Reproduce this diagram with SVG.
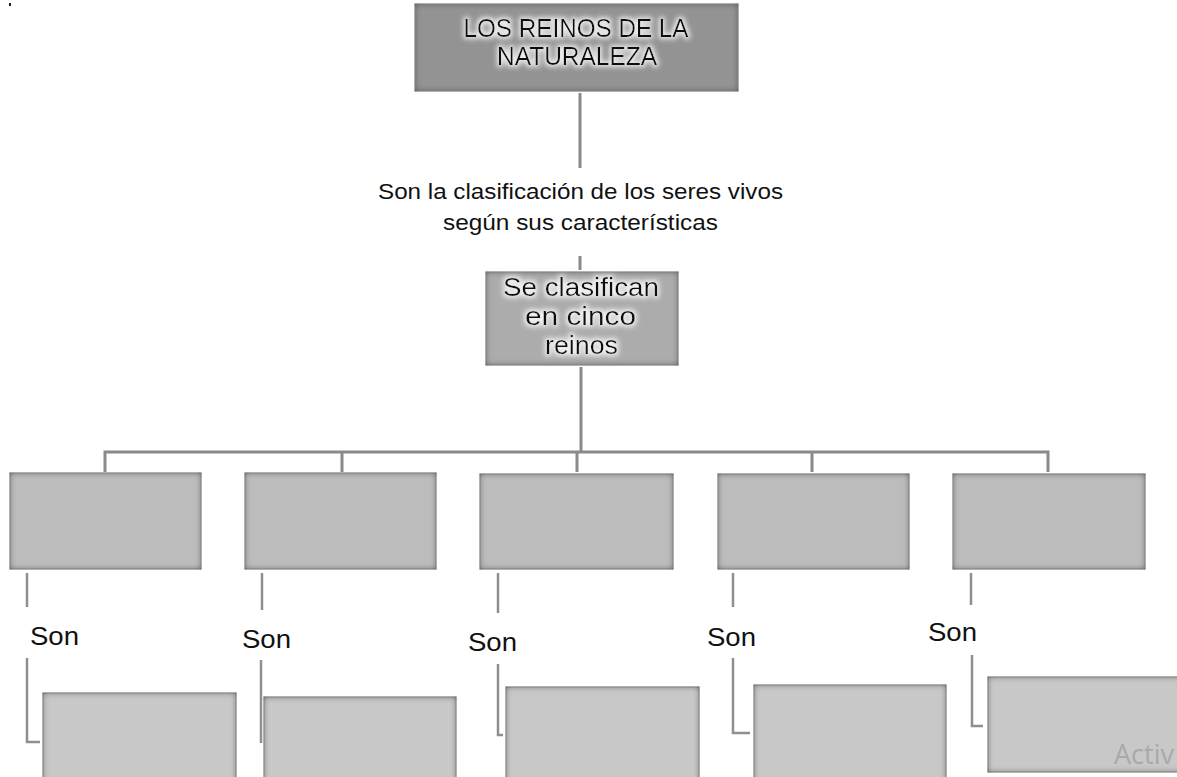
<svg xmlns="http://www.w3.org/2000/svg" width="1177" height="777" viewBox="0 0 1177 777">
<defs>
<filter id="inset" x="-10%" y="-20%" width="120%" height="140%">
<feFlood flood-color="#3c3c3c" result="f"/>
<feComposite in="f" in2="SourceAlpha" operator="out" result="o"/>
<feGaussianBlur in="o" stdDeviation="3" result="b"/>
<feComposite in="b" in2="SourceAlpha" operator="in" result="s"/>
<feComposite in="s" in2="SourceGraphic" operator="over"/>
</filter>
<filter id="glow" x="-10%" y="-30%" width="120%" height="160%">
<feMorphology in="SourceAlpha" operator="dilate" radius="1.5" result="d"/>
<feGaussianBlur in="d" stdDeviation="2.5" result="g"/>
<feFlood flood-color="#ffffff" flood-opacity="0.8"/>
<feComposite in2="g" operator="in" result="w"/>
<feMerge><feMergeNode in="w"/><feMergeNode in="SourceGraphic"/></feMerge>
</filter>
</defs>
<style>
.box{stroke:#a0a0a0;stroke-width:1;filter:url(#inset)}
.top{fill:#939393}
.mid{fill:#acacac}
.r1{fill:#bcbcbc}
.r2{fill:#c8c8c8}
.lbl{font-family:"Liberation Sans",Arial,sans-serif;fill:#111;text-anchor:middle}
.son{font-family:"Liberation Sans",Arial,sans-serif;fill:#111;font-size:25px}
.c{fill:none;stroke:#8a8a8a;stroke-width:3}
.c2{fill:none;stroke:#8f8f8f;stroke-width:2.5}
</style>
<rect x="9" y="3" width="2" height="3" fill="#222"/>
<g id="connectors">
<line class="c" x1="580" y1="93" x2="580" y2="168"/>
<line class="c" x1="580" y1="256" x2="580" y2="270"/>
<line class="c" x1="581" y1="367" x2="581" y2="452"/>
<path class="c" d="M105,472 V452 H1048 V472"/>
<line class="c" x1="342" y1="452" x2="342" y2="472"/>
<line class="c" x1="577" y1="452" x2="577" y2="472"/>
<line class="c" x1="812" y1="452" x2="812" y2="472"/>
<line class="c2" x1="27" y1="573" x2="27" y2="607"/>
<path class="c2" d="M27,658 V742 H40"/>
<line class="c2" x1="262" y1="573" x2="262" y2="610"/>
<line class="c2" x1="261" y1="660" x2="261" y2="743"/>
<line class="c2" x1="498" y1="573" x2="498" y2="613"/>
<path class="c2" d="M498,664 V735 H503"/>
<line class="c2" x1="733" y1="573" x2="733" y2="607"/>
<path class="c2" d="M733,658 V733 H750"/>
<line class="c2" x1="971" y1="573" x2="971" y2="605"/>
<path class="c2" d="M972,655 V726 H983"/>
</g>
<g id="n-top">
<rect class="box top" x="415" y="4" width="323" height="87"/>
<g filter="url(#glow)">
<text class="lbl" x="576" y="37" font-size="25" textLength="225" lengthAdjust="spacingAndGlyphs">LOS REINOS DE LA</text>
<text class="lbl" x="577" y="65" font-size="25" textLength="160" lengthAdjust="spacingAndGlyphs">NATURALEZA</text>
</g>
</g>
<g id="n-desc">
<text class="lbl" x="580.5" y="199" font-size="22" textLength="405" lengthAdjust="spacingAndGlyphs">Son la clasificación de los seres vivos</text>
<text class="lbl" x="580.5" y="230" font-size="22" textLength="275" lengthAdjust="spacingAndGlyphs">según sus características</text>
</g>
<g id="n-mid">
<rect class="box mid" x="486" y="272" width="192" height="93"/>
<g filter="url(#glow)">
<text class="lbl" x="581" y="296" font-size="25" textLength="156" lengthAdjust="spacingAndGlyphs">Se clasifican</text>
<text class="lbl" x="580.5" y="325" font-size="25" textLength="111" lengthAdjust="spacingAndGlyphs">en cinco</text>
<text class="lbl" x="581.5" y="354" font-size="25" textLength="73" lengthAdjust="spacingAndGlyphs">reinos</text>
</g>
</g>
<g id="n-k1"><rect class="box r1" x="10" y="473" width="191" height="96"/></g>
<g id="n-k2"><rect class="box r1" x="245" y="473" width="191" height="96"/></g>
<g id="n-k3"><rect class="box r1" x="480" y="474" width="193" height="95"/></g>
<g id="n-k4"><rect class="box r1" x="718" y="474" width="191" height="95"/></g>
<g id="n-k5"><rect class="box r1" x="953" y="474" width="192" height="95"/></g>
<g id="l1"><text class="son" x="30" y="645" textLength="49" lengthAdjust="spacingAndGlyphs">Son</text></g>
<g id="l2"><text class="son" x="242" y="648" textLength="49" lengthAdjust="spacingAndGlyphs">Son</text></g>
<g id="l3"><text class="son" x="468" y="651" textLength="49" lengthAdjust="spacingAndGlyphs">Son</text></g>
<g id="l4"><text class="son" x="707" y="646" textLength="49" lengthAdjust="spacingAndGlyphs">Son</text></g>
<g id="l5"><text class="son" x="928" y="641" textLength="49" lengthAdjust="spacingAndGlyphs">Son</text></g>
<g id="n-s1"><rect class="box r2" x="43" y="693" width="193" height="110"/></g>
<g id="n-s2"><rect class="box r2" x="264" y="697" width="192" height="110"/></g>
<g id="n-s3"><rect class="box r2" x="506" y="687" width="193" height="110"/></g>
<g id="n-s4"><rect class="box r2" x="754" y="685" width="192" height="110"/></g>
<g id="n-s5"><rect class="box r2" x="988" y="677" width="210" height="95"/></g>
<text x="1114" y="764" font-family="'Open Sans','Noto Sans',sans-serif" font-size="27" fill="#a9a9a9">Activ</text>
</svg>
